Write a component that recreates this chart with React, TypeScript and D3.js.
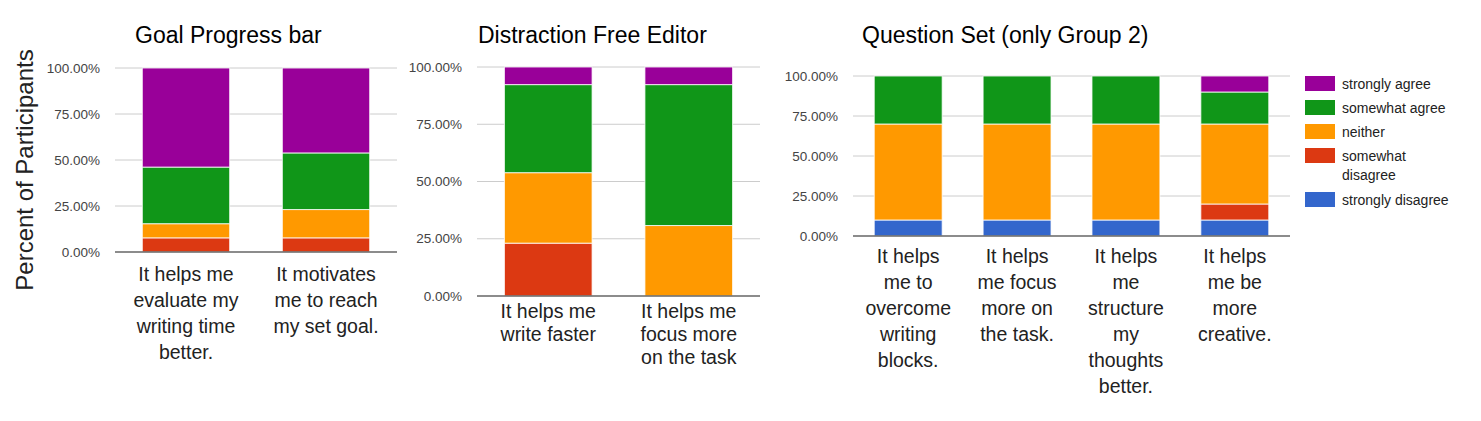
import React from 'react';
import * as d3 from 'd3';

// response levels, bottom of stack first
const levels = ['strongly disagree', 'somewhat disagree', 'neither', 'somewhat agree', 'strongly agree'];
const levelColors = ['#3366cc', '#dc3912', '#ff9900', '#109618', '#990099'];

const yTicks = [0, 25, 50, 75, 100];

// Goal Progress bar
const goalLabels = [
  ['It helps me', 'evaluate my', 'writing time', 'better.'],
  ['It motivates', 'me to reach', 'my set goal.'],
];
const goalValues = [
  [0, 7.69, 7.69, 30.77, 53.85],
  [0, 7.69, 15.38, 30.77, 46.15],
];

// Distraction Free Editor
const editorLabels = [
  ['It helps me', 'write faster'],
  ['It helps me', 'focus more', 'on the task'],
];
const editorValues = [
  [0, 23.08, 30.77, 38.46, 7.69],
  [0, 0, 30.77, 61.54, 7.69],
];

// Question Set (only Group 2)
const questionLabels = [
  ['It helps', 'me to', 'overcome', 'writing', 'blocks.'],
  ['It helps', 'me focus', 'more on', 'the task.'],
  ['It helps', 'me', 'structure', 'my', 'thoughts', 'better.'],
  ['It helps', 'me be', 'more', 'creative.'],
];
const questionValues = [
  [10, 0, 60, 30, 0],
  [10, 0, 60, 30, 0],
  [10, 0, 60, 30, 0],
  [10, 10, 50, 20, 10],
];

const FONT = "Arial, 'Liberation Sans', sans-serif";

type PanelProps = {
  title: string;
  titleX: number;
  labels: string[][];
  values: number[][];
  x0: number;
  x1: number;
  yTop: number;
  yBottom: number;
  labelY: number;
  lineH: number;
};

const Panel = ({ title, titleX, labels, values, x0, x1, yTop, yBottom, labelY, lineH }: PanelProps) => {
  const ids = labels.map((_, i) => String(i));
  const x = d3.scaleBand<string>().domain(ids).range([x0, x1]).paddingInner(0.376).paddingOuter(0.195);
  const y = d3.scaleLinear().domain([0, 100]).range([yBottom, yTop]);

  const table = values.map((row, i) => {
    const o: any = { id: String(i) };
    levels.forEach((k, j) => (o[k] = row[j]));
    return o;
  });
  const series = d3.stack<any>().keys(levels)(table);

  return (
    <g>
      <text x={titleX} y={43} fontSize={23} fill="#000" fontFamily={FONT}>{title}</text>
      {yTicks.map(t => (
        <g key={t}>
          {t > 0 && <line x1={x0} x2={x1} y1={y(t)} y2={y(t)} stroke="#cccccc" strokeWidth={1} />}
          <text x={x0 - 15} y={y(t)} dy="0.35em" textAnchor="end" fontSize={13.5} fill="#444" fontFamily={FONT}>
            {t.toFixed(2)}%
          </text>
        </g>
      ))}
      {series.map((s, si) => (
        <g key={s.key} fill={levelColors[si]}>
          {s.map((d, di) => (d[1] - d[0] > 0 ? (
            <rect key={di} x={x(d.data.id)} width={x.bandwidth()} y={y(d[1])} height={y(d[0]) - y(d[1])}
              stroke="#fff" strokeWidth={1} strokeOpacity={0.8} />
          ) : null))}
        </g>
      ))}
      <line x1={x0} x2={x1} y1={y(0)} y2={y(0)} stroke="#666" strokeWidth={1.5} />
      {labels.map((lines, i) => (
        <text key={i} textAnchor="middle" fontSize={19.5} fill="#222" fontFamily={FONT}>
          {lines.map((ln, j) => (
            <tspan key={j} x={(x(String(i)) || 0) + x.bandwidth() / 2} y={labelY + j * lineH}>{ln}</tspan>
          ))}
        </text>
      ))}
    </g>
  );
};

const legendTops = [76, 100, 124, 148, 192];

const App = () => {
  const legendOrder = [4, 3, 2, 1, 0];
  return (
    <div style={{ position: 'absolute', left: 0, top: 0, background: '#fff' }}>
      <svg width={1481} height={421} style={{ display: 'block' }}>
        <rect width={1481} height={421} fill="#fff" />
        <text transform="translate(33,170) rotate(-90)" textAnchor="middle" fontSize={24} fill="#222" fontFamily={FONT}>
          Percent of Participants
        </text>
        <Panel title="Goal Progress bar" titleX={135} labels={goalLabels} values={goalValues}
          x0={115} x1={397} yTop={68} yBottom={252} labelY={281} lineH={26} />
        <Panel title="Distraction Free Editor" titleX={478} labels={editorLabels} values={editorValues}
          x0={477} x1={760} yTop={67} yBottom={296} labelY={318} lineH={23} />
        <Panel title="Question Set (only Group 2)" titleX={862} labels={questionLabels} values={questionValues}
          x0={853} x1={1290} yTop={76} yBottom={236} labelY={263} lineH={26} />
        {legendOrder.map((li, k) => {
          const top = legendTops[k];
          const words = levels[li] === 'somewhat disagree' ? ['somewhat', 'disagree'] : [levels[li]];
          return (
            <g key={li}>
              <rect x={1305} y={top} width={30} height={15} fill={levelColors[li]} />
              <text fontSize={14} fill="#222" fontFamily={FONT}>
                {words.map((w, j) => (
                  <tspan key={j} x={1342} y={top + 8 + j * 19} dy="0.35em">{w}</tspan>
                ))}
              </text>
            </g>
          );
        })}
      </svg>
    </div>
  );
};

export default App;
